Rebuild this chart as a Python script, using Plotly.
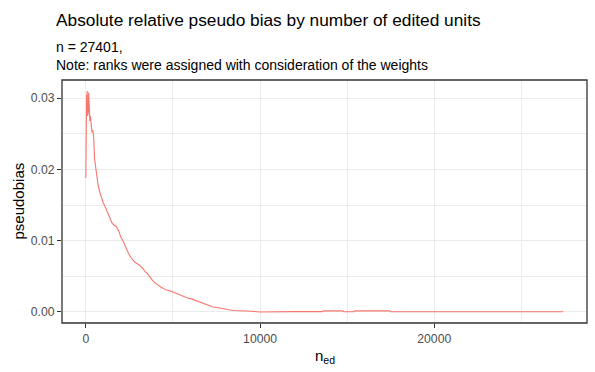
import plotly.graph_objects as go

n_ed = [0, 20, 40, 60, 80, 100, 120, 140, 160, 180, 200, 230, 260, 300, 350, 400, 450,
        500, 560, 620, 700, 800, 900, 1000, 1100, 1200, 1300, 1400, 1500, 1600, 1750,
        1900, 2000, 2150, 2300, 2450, 2600, 2800, 3000, 3200, 3400, 3600, 3800, 4000,
        4300, 4600, 4900, 5200, 5500, 5800, 6100, 6400, 6700, 7000, 7300, 7600, 7900,
        8200, 8500, 9000, 9500, 10000, 10500, 11000, 12000, 13000, 13600, 13650, 14750,
        14800, 15400, 15450, 17450, 17500, 20000, 25000, 27401]
pseudobias = [0.0188, 0.0295, 0.0305, 0.0285, 0.0310, 0.0275, 0.0300, 0.0280, 0.0308,
              0.0290, 0.0300, 0.0268, 0.0275, 0.0258, 0.0252, 0.0255, 0.0245, 0.0215,
              0.0205, 0.0190, 0.0178, 0.0168, 0.0160, 0.0153, 0.0148, 0.0142, 0.0138,
              0.0130, 0.0125, 0.0122, 0.0120, 0.0113, 0.0105, 0.0099, 0.0090, 0.0082,
              0.0076, 0.0070, 0.0067, 0.0063, 0.0057, 0.0052, 0.0045, 0.0040, 0.0035,
              0.0031, 0.0029, 0.0026, 0.0022, 0.0020, 0.0018, 0.0015, 0.0012, 0.0009,
              0.0007, 0.0006, 0.0004, 0.0003, 0.0002, 0.0002, 0.0001, 0.0000, 0.00003,
              0.00005, 0.00004, 0.00005, 0.00005, 0.00017, 0.00015, 0.00003, 0.00003,
              0.00017, 0.00015, 0.00002, 0.00002, 0.00002, 0.00002]
x_ticks = [0, 10000, 20000]
x_tick_labels = ["0", "10000", "20000"]
y_ticks = [0.00, 0.01, 0.02, 0.03]
y_tick_labels = ["0.00", "0.01", "0.02", "0.03"]

fig = go.Figure()
fig.add_trace(go.Scatter(x=n_ed, y=pseudobias, mode="lines",
                         line=dict(color="#F8766D", width=1.1)))

fig.update_layout(
    width=595, height=372,
    margin=dict(l=62, r=8, t=80, b=49, autoexpand=False),
    plot_bgcolor="white", paper_bgcolor="white",
    showlegend=False,
    font=dict(family="Liberation Sans, Arial", color="#4D4D4D"),
)
# panel border like theme_bw
fig.add_shape(type="rect", xref="paper", yref="paper", x0=0, y0=0, x1=1, y1=1,
              line=dict(color="#333333", width=1.3), layer="above")

fig.add_annotation(text="Absolute relative pseudo bias by number of edited units",
                   xref="paper", yref="paper", x=-0.015, y=1.0, yshift=60,
                   xanchor="left", yanchor="middle", showarrow=False,
                   font=dict(size=17.3, color="black"))
fig.add_annotation(text="n = 27401,<br>Note: ranks were assigned with consideration of the weights",
                   xref="paper", yref="paper", x=-0.015, y=1.0, yshift=24,
                   xanchor="left", yanchor="middle", showarrow=False, align="left",
                   font=dict(size=14, color="black"))
fig.add_annotation(text="n<sub>ed</sub>", xref="paper", yref="paper", x=0.5, y=0,
                   yshift=-33, xanchor="center", yanchor="middle", showarrow=False,
                   font=dict(size=15, color="black"))
fig.add_annotation(text="pseudobias", xref="paper", yref="paper", x=0, y=0.5,
                   xshift=-44, xanchor="center", yanchor="middle", showarrow=False,
                   textangle=-90, font=dict(size=15, color="black"))

fig.update_xaxes(range=[-1370, 28771], tickvals=x_ticks, ticktext=x_tick_labels,
                 ticks="outside", ticklen=4, tickcolor="#333333",
                 tickfont=dict(size=12.2, color="#4D4D4D"),
                 showgrid=True, gridcolor="#EBEBEB", gridwidth=1,
                 minor=dict(tickvals=[5000, 15000, 25000], showgrid=True,
                            gridcolor="#EBEBEB", gridwidth=0.6),
                 showline=False, zeroline=False, automargin=False)
fig.update_yaxes(range=[-0.00155, 0.03255], tickvals=y_ticks, ticktext=y_tick_labels,
                 ticks="outside", ticklen=4, tickcolor="#333333",
                 tickfont=dict(size=12.2, color="#4D4D4D"),
                 showgrid=True, gridcolor="#EBEBEB", gridwidth=1,
                 minor=dict(tickvals=[0.005, 0.015, 0.025], showgrid=True,
                            gridcolor="#EBEBEB", gridwidth=0.6),
                 showline=False, zeroline=False, automargin=False)

fig.write_html("out.html", config={"displayModeBar": False},
               post_script="document.body.style.margin='0';")
